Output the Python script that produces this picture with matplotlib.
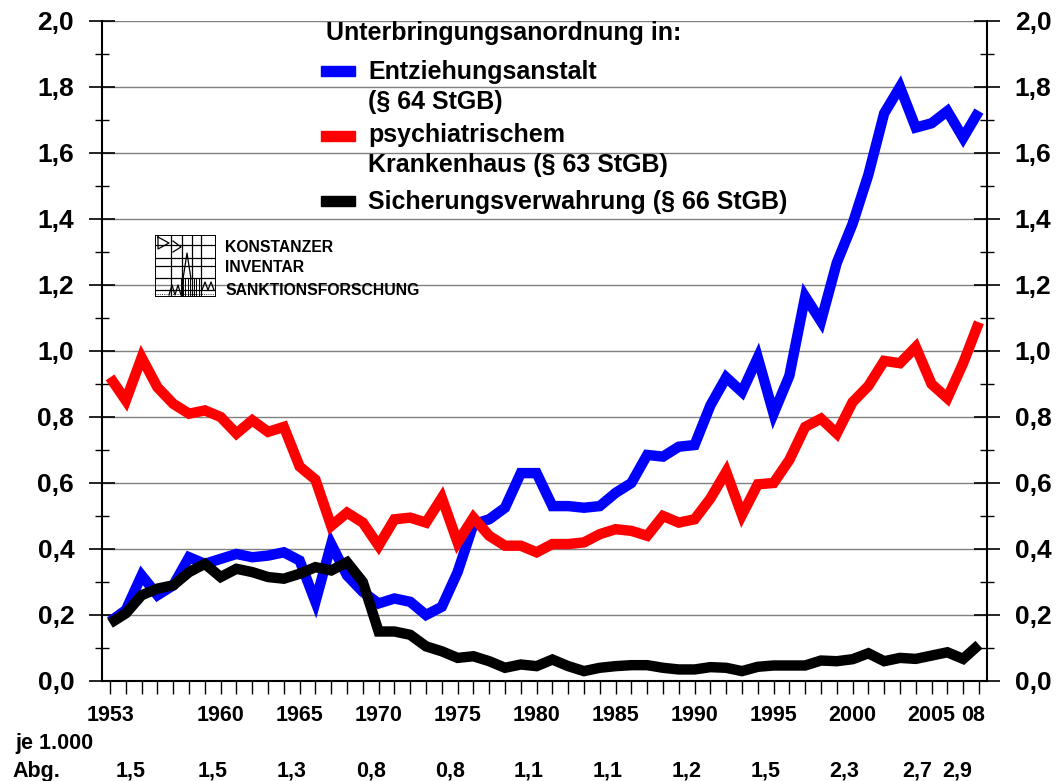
import numpy as np
import matplotlib.pyplot as plt
from matplotlib.transforms import blended_transform_factory

plt.rcParams['font.family'] = ['Liberation Sans', 'DejaVu Sans']
plt.rcParams['font.weight'] = 'bold'

# Data (Unterbringungsanordnungen, 1953-2008)
years = np.arange(1953, 2009)

entziehung = [0.18, 0.215, 0.32, 0.26, 0.29, 0.375, 0.355, 0.37, 0.385, 0.375,
              0.38, 0.39, 0.365, 0.24, 0.415, 0.32, 0.27, 0.235, 0.25, 0.24,
              0.20, 0.225, 0.33, 0.475, 0.49, 0.525, 0.63, 0.63, 0.53, 0.53,
              0.525, 0.53, 0.57, 0.60, 0.685, 0.68, 0.71, 0.715, 0.835, 0.92,
              0.876, 0.98, 0.81, 0.925, 1.165, 1.09, 1.267, 1.385, 1.534, 1.72,
              1.80, 1.677, 1.69, 1.727, 1.646, 1.727]

psychiatrie = [0.92, 0.85, 0.98, 0.89, 0.84, 0.81, 0.82, 0.80, 0.75, 0.79,
               0.755, 0.77, 0.65, 0.61, 0.47, 0.51, 0.48, 0.41, 0.49, 0.495,
               0.48, 0.555, 0.42, 0.495, 0.44, 0.41, 0.41, 0.39, 0.415, 0.415,
               0.42, 0.445, 0.46, 0.455, 0.44, 0.50, 0.48, 0.49, 0.553, 0.634,
               0.503, 0.596, 0.60, 0.67, 0.77, 0.795, 0.75, 0.845, 0.894, 0.97,
               0.963, 1.012, 0.90, 0.857, 0.963, 1.087]

sicherung = [0.175, 0.205, 0.26, 0.28, 0.29, 0.33, 0.355, 0.315, 0.34, 0.33,
             0.315, 0.31, 0.325, 0.345, 0.335, 0.36, 0.30, 0.15, 0.15, 0.14,
             0.105, 0.09, 0.07, 0.075, 0.06, 0.04, 0.05, 0.045, 0.065, 0.045,
             0.03, 0.04, 0.045, 0.048, 0.048, 0.04, 0.035, 0.035, 0.042, 0.04,
             0.03, 0.043, 0.047, 0.047, 0.047, 0.062, 0.06, 0.066, 0.084, 0.06,
             0.07, 0.067, 0.077, 0.087, 0.067, 0.11]

# labels under the x axis
label_years = [1953, 1960, 1965, 1970, 1975, 1980, 1985, 1990, 1995, 2000, 2005, 2008]
label_texts = ['1953', '1960', '1965', '1970', '1975', '1980', '1985', '1990',
               '1995', '2000', '2005', '08']
abg_values = ['1,5', '1,5', '1,3', '0,8', '0,8', '1,1', '1,1', '1,2', '1,5', '2,3', '2,7', '2,9']

series = [
    (entziehung, 'blue', ['Entziehungsanstalt', '(§ 64 StGB)']),
    (psychiatrie, 'red', ['psychiatrischem', 'Krankenhaus (§ 63 StGB)']),
    (sicherung, 'black', ['Sicherungsverwahrung (§ 66 StGB)']),
]

W, H = 1058, 781
fig = plt.figure(figsize=(W / 100, H / 100), dpi=100)
ax = fig.add_axes([102 / W, 1 - 681 / H, 885 / W, 660 / H])

for vals, col, _ in series:
    ax.plot(years, vals, color=col, lw=7.5, solid_joinstyle='miter',
            solid_capstyle='butt', zorder=3)

ax.set_xlim(1952.49, 2008.51)
ax.set_ylim(0, 2.0)

ax.set_yticks(np.arange(0, 2.01, 0.2))
ax.set_yticks(np.arange(0.1, 2.0, 0.2), minor=True)
ax.set_yticklabels([f'{v:.1f}'.replace('.', ',') for v in np.arange(0, 2.01, 0.2)])
ax.set_xticks(years)
ax.set_xticklabels([])
ax.grid(axis='y', which='major', color='#808080', lw=1.0, zorder=1)

ax.tick_params(axis='y', which='major', direction='inout', length=19, width=1.2,
               labelsize=19, left=True, right=True, labelleft=True, labelright=True, pad=10.5)
ax.tick_params(axis='y', which='minor', direction='inout', length=10, width=1.0,
               left=True, right=True)
ax.tick_params(axis='x', which='major', direction='out', length=9, width=1.0)
for lab in ax.get_yticklabels():
    lab.set_fontweight('bold')

ax.spines['top'].set_visible(False)
for s in ['left', 'right', 'bottom']:
    ax.spines[s].set_linewidth(1.5)

# year labels and "je 1.000 Abg." row
trans = blended_transform_factory(ax.transData, ax.transAxes)
for yr, txt, abg in zip(label_years, label_texts, abg_values):
    yshift = -0.35 if yr == 2008 else 0.0
    ashift = -0.5
    if yr == 1953:
        ashift = 1.3
    elif yr == 2005:
        ashift = -0.9
    elif yr == 2008:
        ashift = -1.4
    ax.text(yr + yshift, -0.052, txt, transform=trans, ha='center', va='center',
            fontsize=15.5, fontweight='bold')
    ax.text(yr + ashift, -0.137, abg, transform=trans, ha='center', va='center',
            fontsize=15.5, fontweight='bold')
fig.text(15 / W, 1 - 743 / H, 'je 1.000', ha='left', va='center', fontsize=15.5, fontweight='bold')
fig.text(12 / W, 1 - 771 / H, 'Abg.', ha='left', va='center', fontsize=15.5, fontweight='bold')

# legend (drawn by hand)
fig.text(326 / W, 1 - 33 / H, 'Unterbringungsanordnung in:', ha='left', va='center',
         fontsize=18, fontweight='bold')
rows = [(71, 72), (136, 135), (201, 202)]
for (vals, col, lines), (sy, ty) in zip(series, rows):
    fig.patches.append(plt.Rectangle((321 / W, 1 - (sy + 5) / H), 34 / W, 10 / H,
                                     transform=fig.transFigure, color=col, zorder=5))
    for i, line in enumerate(lines):
        fig.text(368 / W, 1 - (ty + i * 30) / H, line, ha='left', va='center',
                 fontsize=18, fontweight='bold')

# logo
lg = fig.add_axes([155 / W, 1 - 297 / H, 61 / W, 62 / H])
lg.set_xlim(0, 61)
lg.set_ylim(62, 0)
lg.axis('off')
lg.plot([0, 61, 61, 0, 0], [0, 0, 62, 62, 0], color='black', lw=1.4)
for gx in [16, 27, 37, 46]:
    lg.plot([gx, gx], [0, 62], color='black', lw=0.9)
for gy in [10, 23, 31, 43, 55]:
    lg.plot([0, 61], [gy, gy], color='black', lw=0.9)
lg.plot([3, 14, 3, 3], [2, 8, 14, 2], color='black', lw=0.9)
lg.plot([18, 26, 18], [6, 12, 17], color='black', lw=0.9)
lg.plot([28, 32, 36], [44, 18, 44], color='black', lw=0.9)
for hx in np.arange(26, 46, 2.2):
    lg.plot([hx, hx], [44, 60], color='black', lw=0.7)
lg.plot([14, 17, 20, 23, 26], [60, 50, 60, 50, 60], color='black', lw=0.9)
lg.plot([47, 50, 53, 56, 59], [55, 47, 55, 47, 55], color='black', lw=0.9)
lg.plot([0, 61], [59, 59], color='black', lw=0.6, ls=':')

fig.text(225 / W, 1 - 247 / H, 'KONSTANZER', ha='left', va='center', fontsize=11.3, fontweight='bold')
fig.text(225 / W, 1 - 267 / H, 'INVENTAR', ha='left', va='center', fontsize=11.3, fontweight='bold')
fig.text(225 / W, 1 - 290 / H, 'SANKTIONSFORSCHUNG', ha='left', va='center', fontsize=11.3, fontweight='bold')

fig.savefig('out.png', dpi=100)
